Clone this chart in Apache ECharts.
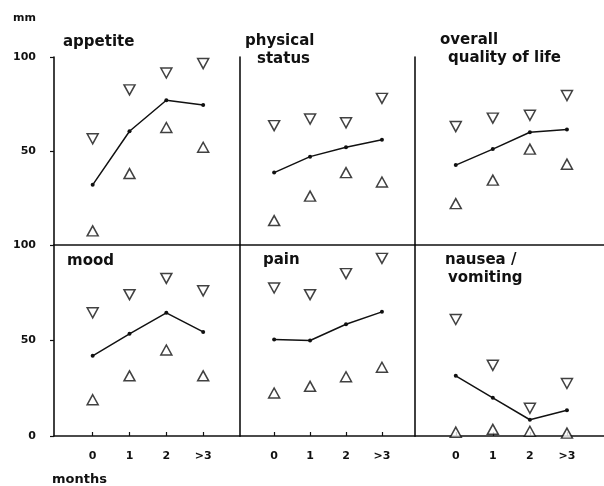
<!DOCTYPE html>
<html><head><meta charset="utf-8">
<script src="https://cdn.jsdelivr.net/npm/echarts@6/dist/echarts.min.js"></script>
<style>html,body{margin:0;padding:0;background:#fff}#c{width:604px;height:486px}</style>
</head><body><div id="c"></div>
<script>
// ---- data ----
const monthValues = [0, 1, 2, 3];
const monthLabels = ['0', '1', '2', '>3'];
const yUnitLabel = 'mm';
const xUnitLabel = 'months';
const panelTitles = [['appetite'], ['physical', 'status'], ['overall', 'quality of life'], ['mood'], ['pain'], ['nausea /', 'vomiting']];

const appetiteMedian = [32, 60.5, 77, 74.5];
const appetiteUpper = [56.5, 82.5, 91.5, 96.5];
const appetiteLower = [7.5, 38, 62.5, 52];

const physicalMedian = [38.5, 47, 52, 56];
const physicalUpper = [63.5, 67, 65, 78];
const physicalLower = [13, 26, 38.5, 33.5];

const overallMedian = [42.5, 51, 60, 61.5];
const overallUpper = [63, 67.5, 69, 79.5];
const overallLower = [22, 34.5, 51, 43];

const moodMedian = [42, 53.5, 64.5, 54.5];
const moodUpper = [64.5, 74, 82.5, 76];
const moodLower = [19, 31.5, 45, 31.5];

const painMedian = [50.5, 50, 58.5, 65];
const painUpper = [77.5, 74, 85, 93];
const painLower = [22.5, 26, 31, 36];

const nauseaMedian = [31.5, 20, 8.5, 13.5];
const nauseaUpper = [61, 37, 14.5, 27.5];
const nauseaLower = [2, 3.5, 2.5, 1.5];

// ---- build ----
const medians = [appetiteMedian, physicalMedian, overallMedian, moodMedian, painMedian, nauseaMedian];
const uppers = [appetiteUpper, physicalUpper, overallUpper, moodUpper, painUpper, nauseaUpper];
const lowers = [appetiteLower, physicalLower, overallLower, moodLower, painLower, nauseaLower];

const INK = '#111';
const FONT = 'DejaVu Sans, Liberation Sans, Arial, sans-serif';
const colLeft = [54, 240, 415], colWidth = [186, 175, 189];
const colMin = [-1.05, -0.95, -1.1], colMax = [4, 3.92, 4];
const rowTop = [57, 245], rowHeight = [188, 191];

const grids = [], xAxes = [], yAxes = [], series = [];
for (let i = 0; i < 6; i++) {
  const r = Math.floor(i / 3), c = i % 3;
  grids.push({ left: colLeft[c], width: colWidth[c], top: rowTop[r], height: rowHeight[r] });
  xAxes.push({
    type: 'value', gridIndex: i, min: colMin[c], max: colMax[c],
    axisLine: { show: true, onZero: false, lineStyle: { color: INK, width: 1.6 } },
    splitLine: { show: false },
    axisTick: { show: r === 1, inside: true, length: 4, customValues: monthValues, lineStyle: { color: INK, width: 1.2 } },
    axisLabel: {
      show: r === 1, customValues: monthValues, margin: 15,
      formatter: v => monthLabels[monthValues.indexOf(v)],
      color: INK, fontSize: 11, fontWeight: 'bold', fontFamily: FONT
    }
  });
  yAxes.push({
    type: 'value', gridIndex: i, min: 0, max: 100, interval: 50,
    axisLine: { show: true, onZero: false, lineStyle: { color: INK, width: 1.6 } },
    splitLine: { show: false },
    axisTick: { show: c === 0, length: 4, lineStyle: { color: INK, width: 1.2 } },
    axisLabel: {
      show: c === 0, showMinLabel: r === 1, margin: 18,
      color: INK, fontSize: 11, fontWeight: 'bold', fontFamily: FONT
    }
  });
  const pts = arr => monthValues.map((m, j) => [m, arr[j]]);
  const tri = { color: '#fff', borderColor: INK, borderWidth: 1.5 };
  series.push({
    type: 'scatter', xAxisIndex: i, yAxisIndex: i, data: pts(uppers[i]), clip: false,
    symbol: 'triangle', symbolRotate: 180, symbolSize: [11, 10], itemStyle: tri, z: 2
  });
  series.push({
    type: 'scatter', xAxisIndex: i, yAxisIndex: i, data: pts(lowers[i]), clip: false,
    symbol: 'triangle', symbolSize: [11, 10], itemStyle: tri, z: 2
  });
  series.push({
    type: 'line', xAxisIndex: i, yAxisIndex: i, data: pts(medians[i]),
    symbol: 'circle', symbolSize: 4, showSymbol: true,
    lineStyle: { color: INK, width: 1.5 }, itemStyle: { color: INK }, z: 3
  });
}

const titlePos = [
  [[63, 42]], [[245, 41], [257, 59]], [[440, 40], [448, 58]],
  [[67, 261]], [[263, 260]], [[445, 260], [448, 278]]
];
const graphic = [];
panelTitles.forEach((lines, i) => {
  lines.forEach((t, k) => {
    graphic.push({ type: 'text', x: titlePos[i][k][0], y: titlePos[i][k][1],
      style: { text: t, fill: INK, font: 'bold 15px ' + FONT, verticalAlign: 'middle', align: 'left' } });
  });
});
graphic.push({ type: 'text', x: 13, y: 18, style: { text: yUnitLabel, fill: INK, font: 'bold 11px ' + FONT, verticalAlign: 'middle' } });
graphic.push({ type: 'text', x: 52, y: 480, style: { text: xUnitLabel, fill: INK, font: 'bold 13px ' + FONT, verticalAlign: 'middle' } });

const chart = echarts.init(document.getElementById('c'), null, { renderer: 'canvas' });
chart.setOption({
  animation: false, backgroundColor: '#fff',
  grid: grids, xAxis: xAxes, yAxis: yAxes, series: series, graphic: graphic
});
</script></body></html>
